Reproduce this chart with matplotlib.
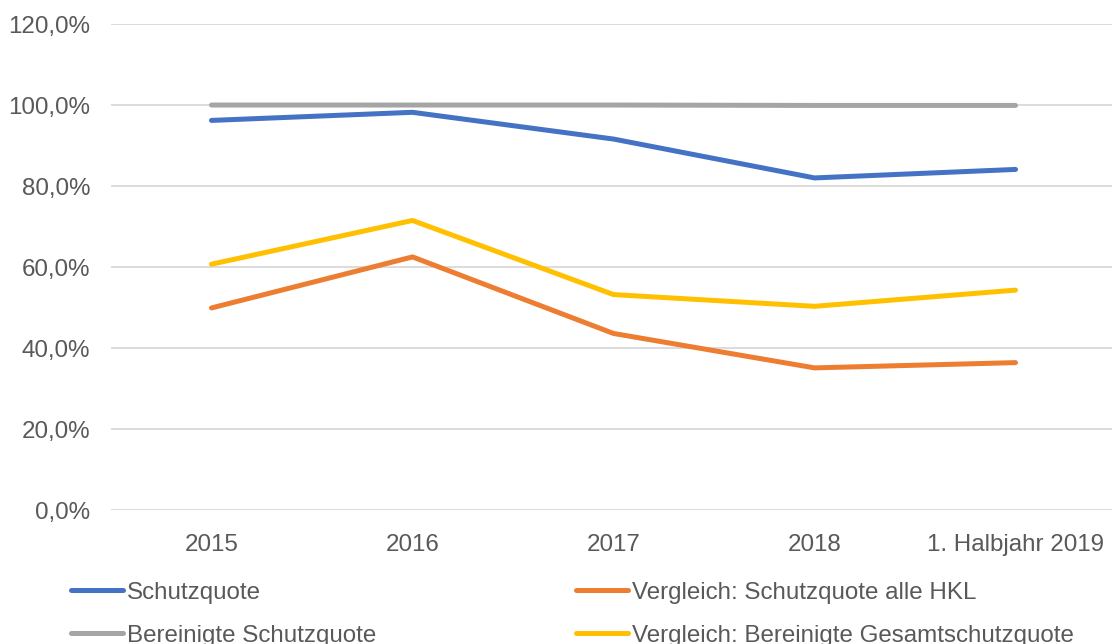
import matplotlib.pyplot as plt
from matplotlib.ticker import FuncFormatter

plt.rcParams['font.family'] = ['Liberation Sans', 'DejaVu Sans']

categories = ["2015", "2016", "2017", "2018", "1. Halbjahr 2019"]
schutzquote = [96.2, 98.2, 91.6, 82.0, 84.1]
vergleich_hkl = [49.9, 62.5, 43.6, 35.1, 36.4]
bereinigte = [100.0, 100.0, 100.0, 99.9, 99.9]
vergleich_bereinigte = [60.7, 71.5, 53.2, 50.3, 54.3]

fig = plt.figure(figsize=(11.12, 6.44), dpi=100)
ax = fig.add_axes([0.0998, 0.208, 0.9002, 0.7547])

x = range(len(categories))
txt = "#595959"
lw = 3.6
fs = 17.4
l1, = ax.plot(x, schutzquote, color="#4472c4", lw=lw, solid_capstyle='round', label="Schutzquote")
l2, = ax.plot(x, vergleich_hkl, color="#ed7d31", lw=lw, solid_capstyle='round', label="Vergleich: Schutzquote alle HKL")
l3, = ax.plot(x, bereinigte, color="#a5a5a5", lw=lw, solid_capstyle='round', label="Bereinigte Schutzquote")
l4, = ax.plot(x, vergleich_bereinigte, color="#ffc000", lw=lw, solid_capstyle='round', label="Vergleich: Bereinigte Gesamtschutzquote")
# grey line drawn below blue
l3.set_zorder(1.5)

ax.set_ylim(0, 120)
ax.set_yticks(range(0, 121, 20))
ax.yaxis.set_major_formatter(FuncFormatter(lambda v, p: f"{v:.1f}".replace(".", ",") + "%"))
ax.set_xlim(-0.5, 4.48)
ax.set_xticks(list(x))
ax.set_xticklabels(categories)
ax.grid(axis='y', color="#d9d9d9", lw=1.3)
ax.set_axisbelow(True)
for s in ax.spines.values():
    s.set_visible(False)
ax.tick_params(length=0, labelsize=fs, colors=txt)
ax.tick_params(axis='x', pad=17)
ax.tick_params(axis='y', pad=15)

# legend sits at the bottom edge, second row is clipped like in the original
leg = fig.legend(handles=[l1, l3, l2, l4], ncol=2, loc='upper left',
                 bbox_to_anchor=(0.064, 0.097), frameon=False, fontsize=fs,
                 handlelength=2.15, handletextpad=0.17, columnspacing=8.25,
                 labelspacing=0.88, borderaxespad=0, borderpad=0)
for t in leg.get_texts():
    t.set_color(txt)

fig.savefig("out.png", dpi=100)
